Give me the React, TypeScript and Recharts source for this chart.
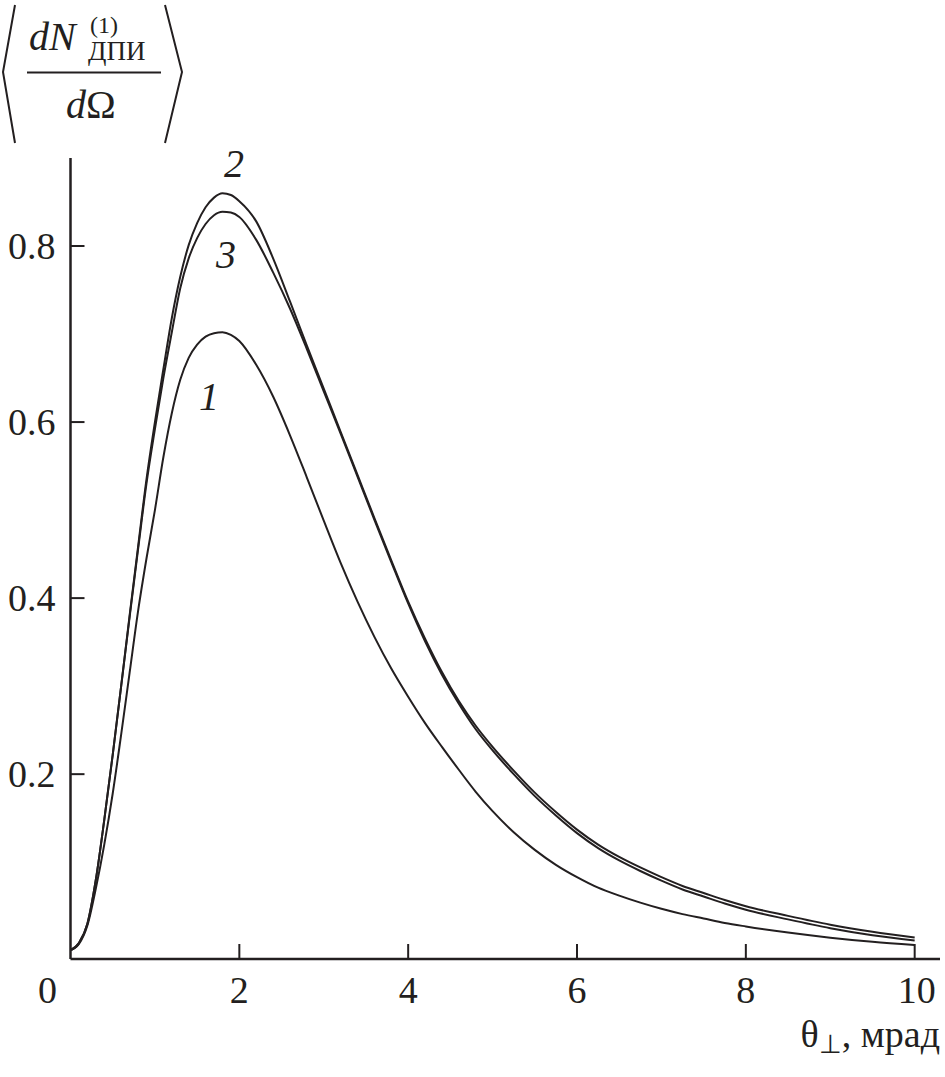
import React from "react";
import { LineChart, Line, XAxis, YAxis } from "recharts";

const xs = [0, 0.1, 0.2, 0.3, 0.4, 0.5, 0.6, 0.7, 0.8, 0.9, 1.0, 1.1, 1.2, 1.3, 1.4, 1.5, 1.6, 1.7, 1.8, 1.9, 2.0,
  2.2, 2.4, 2.6, 2.8, 3.0, 3.2, 3.4, 3.6, 3.8, 4.0, 4.2, 4.4, 4.6, 4.8, 5.0,
  5.25, 5.5, 5.75, 6.0, 6.25, 6.5, 6.75, 7.0, 7.25, 7.5, 7.75, 8.0,
  8.5, 9.0, 9.5, 10.0];

const curve1 = [0, 0.007, 0.028, 0.07, 0.12, 0.178, 0.245, 0.315, 0.385, 0.445, 0.5, 0.56, 0.61, 0.648, 0.673, 0.688, 0.697, 0.701, 0.702, 0.699, 0.692,
  0.665, 0.629, 0.585, 0.537, 0.488, 0.44, 0.396, 0.356, 0.32, 0.288, 0.258, 0.231, 0.205, 0.18, 0.158,
  0.134, 0.114, 0.097, 0.083, 0.071, 0.062, 0.054, 0.047, 0.041, 0.036, 0.031, 0.027,
  0.02, 0.0142, 0.0095, 0.0058];

const curve2 = [0, 0.008, 0.03, 0.08, 0.148, 0.222, 0.3, 0.38, 0.458, 0.535, 0.6, 0.66, 0.718, 0.765, 0.801, 0.826, 0.844, 0.855, 0.86, 0.858, 0.851,
  0.828, 0.786, 0.737, 0.687, 0.638, 0.589, 0.54, 0.491, 0.443, 0.396, 0.354, 0.316, 0.283, 0.255, 0.231,
  0.204, 0.179, 0.157, 0.137, 0.12, 0.106, 0.094, 0.083, 0.073, 0.065, 0.057, 0.05,
  0.039, 0.029, 0.021, 0.0145];

const curve3 = [0, 0.008, 0.03, 0.08, 0.148, 0.222, 0.3, 0.378, 0.455, 0.53, 0.592, 0.65, 0.702, 0.752, 0.786, 0.809, 0.825, 0.835, 0.839, 0.838, 0.833,
  0.807, 0.77, 0.729, 0.683, 0.635, 0.587, 0.538, 0.489, 0.441, 0.394, 0.351, 0.313, 0.28, 0.251, 0.227,
  0.2, 0.175, 0.153, 0.133, 0.116, 0.102, 0.09, 0.079, 0.069, 0.061, 0.053, 0.046,
  0.035, 0.025, 0.017, 0.011];

const xTicks = [0, 2, 4, 6, 8, 10];
const yTicks = [0.2, 0.4, 0.6, 0.8];

const data = xs.map((x, i) => ({ x, c1: curve1[i], c2: curve2[i], c3: curve3[i] }));

const INK = "#231f20";
const FONT = "'Liberation Serif', 'Times New Roman', serif";

const XTick = (props: any) => {
  const { x, y, payload } = props;
  const v = payload.value;
  return (
    <g>
      {v !== 0 && <line x1={x} y1={y} x2={x} y2={y - 15} stroke={INK} strokeWidth={2} />}
      <text x={v === 0 ? x - 23 : x + (v === 10 ? 2 : 0)} y={y + 44} textAnchor="middle" fontSize={38} fontFamily={FONT} fill={INK}>
        {String(v)}
      </text>
    </g>
  );
};

const YTick = (props: any) => {
  const { x, y, payload } = props;
  return (
    <g>
      <line x1={x} y1={y} x2={x + 14} y2={y} stroke={INK} strokeWidth={2} />
      <text x={x - 15} y={y + 13} textAnchor="end" fontSize={38} fontFamily={FONT} fill={INK}>
        {String(payload.value)}
      </text>
    </g>
  );
};

export default function App() {
  return (
    <div style={{ position: "absolute", left: 0, top: 0, width: 945, height: 1077, background: "#fff" }}>
      <LineChart width={945} height={1077} data={data} margin={{ top: 158, right: 5, bottom: 0, left: 0.5 }}>
        <XAxis
          dataKey="x"
          type="number"
          domain={[0, 10.3]}
          ticks={xTicks}
          height={118}
          tickSize={0}
          tickMargin={0}
          tickLine={false}
          axisLine={{ stroke: INK, strokeWidth: 2.5 }}
          tick={<XTick />}
          interval={0}
          allowDataOverflow
        />
        <YAxis
          type="number"
          domain={[-0.01, 0.9]}
          ticks={yTicks}
          width={70}
          tickSize={0}
          tickMargin={0}
          tickLine={false}
          axisLine={{ stroke: INK, strokeWidth: 2.5 }}
          tick={<YTick />}
          interval={0}
          allowDataOverflow
        />
        <Line dataKey="c1" type="monotone" stroke={INK} strokeWidth={2} dot={false} isAnimationActive={false} />
        <Line dataKey="c2" type="monotone" stroke={INK} strokeWidth={2} dot={false} isAnimationActive={false} />
        <Line dataKey="c3" type="monotone" stroke={INK} strokeWidth={2} dot={false} isAnimationActive={false} />
      </LineChart>
      <svg width={945} height={1077} style={{ position: "absolute", left: 0, top: 0, pointerEvents: "none" }}>
        {/* y-axis title */}
        <polyline points="15,5 3,72 15,143" fill="none" stroke={INK} strokeWidth={2} />
        <polyline points="165,5 182,72 165,143" fill="none" stroke={INK} strokeWidth={2} />
        <line x1={27} y1={72.5} x2={161} y2={72.5} stroke={INK} strokeWidth={2} />
        <text x={29} y={50} fontSize={40} fontStyle="italic" fontFamily={FONT} fill={INK}>dN</text>
        <text x={90} y={33} fontSize={24} fontFamily={FONT} fill={INK}>(1)</text>
        <text x={88} y={60} fontSize={27} fontFamily={FONT} fill={INK}>ДПИ</text>
        <text x={66} y={118} fontSize={40} fontFamily={FONT} fill={INK}>
          <tspan fontStyle="italic">d</tspan>Ω
        </text>
        {/* x-axis title */}
        <text x={940} y={1047} textAnchor="end" fontSize={38} fontFamily={FONT} fill={INK}>
          θ<tspan fontSize={26} dy={6}>⊥</tspan><tspan dy={-6}>, мрад</tspan>
        </text>
        {/* curve labels */}
        <text x={224} y={177} fontSize={40} fontStyle="italic" fontFamily={FONT} fill={INK}>2</text>
        <text x={216} y={268} fontSize={40} fontStyle="italic" fontFamily={FONT} fill={INK}>3</text>
        <text x={199} y={410} fontSize={40} fontStyle="italic" fontFamily={FONT} fill={INK}>1</text>
      </svg>
    </div>
  );
}
